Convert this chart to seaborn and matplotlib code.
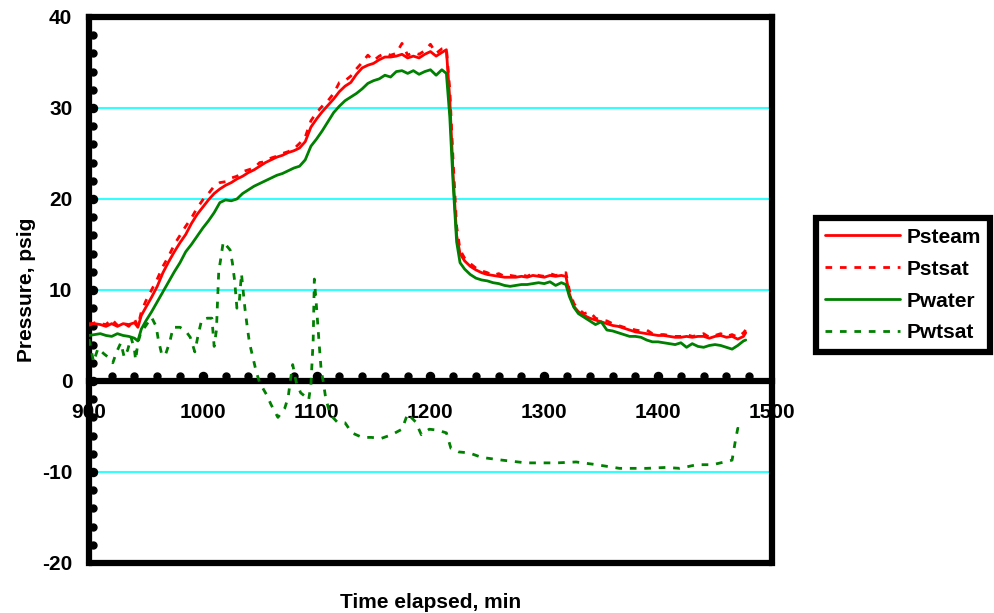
import numpy as np
import pandas as pd
import matplotlib
matplotlib.use("Agg")
import matplotlib.pyplot as plt
import matplotlib.transforms as mtransforms
from matplotlib.ticker import MultipleLocator
import seaborn as sns

# time axis shared by the three smooth series (min)
t_main = [900, 905, 910, 915, 920, 925, 930, 935, 940, 943,
          946, 950, 955, 960, 965, 970, 975, 980, 985, 990,
          995, 1000, 1005, 1010, 1015, 1020, 1025, 1030, 1035, 1040,
          1045, 1050, 1055, 1060, 1065, 1070, 1075, 1080, 1085, 1090,
          1095, 1100, 1105, 1110, 1115, 1120, 1125, 1130, 1135, 1140,
          1145, 1150, 1155, 1160, 1165, 1170, 1175, 1180, 1185, 1190,
          1195, 1200, 1205, 1210, 1214, 1217, 1220, 1223, 1226, 1230,
          1235, 1240, 1245, 1250, 1255, 1260, 1265, 1270, 1275, 1280,
          1285, 1290, 1295, 1300, 1305, 1310, 1315, 1319, 1322, 1326,
          1330, 1335, 1340, 1345, 1350, 1355, 1360, 1365, 1370, 1375,
          1380, 1385, 1390, 1395, 1400, 1405, 1410, 1415, 1420, 1425,
          1430, 1435, 1440, 1445, 1450, 1455, 1460, 1465, 1470, 1475,
          1477]

psteam = [6.3, 6.3, 6.2, 6.0, 6.3, 6.0, 6.3, 6.2, 6.4, 5.9,
          7.2, 8.1, 9.2, 10.4, 11.9, 13.1, 14.2, 15.2, 16.1, 17.3,
          18.3, 19.1, 19.9, 20.6, 21.1, 21.5, 21.8, 22.2, 22.5, 22.9,
          23.2, 23.6, 24.0, 24.3, 24.6, 24.8, 25.1, 25.3, 25.6, 26.3,
          27.9, 28.8, 29.6, 30.3, 31.0, 31.8, 32.4, 32.8, 33.7, 34.4,
          34.7, 34.9, 35.3, 35.6, 35.6, 35.7, 35.9, 35.5, 35.7, 35.5,
          35.9, 36.2, 35.7, 36.1, 36.4, 31.0, 22.5, 16.0, 14.0, 13.2,
          12.6, 12.2, 11.9, 11.7, 11.6, 11.5, 11.4, 11.4, 11.4, 11.5,
          11.4, 11.6, 11.5, 11.4, 11.6, 11.5, 11.6, 11.5, 9.6, 8.2,
          7.6, 7.2, 6.9, 6.7, 6.5, 6.3, 6.1, 6.0, 5.8, 5.6,
          5.4, 5.3, 5.2, 5.1, 5.0, 5.0, 4.9, 4.8, 4.8, 4.9,
          4.8, 4.9, 4.9, 4.7, 4.9, 5.0, 4.8, 4.9, 4.6, 4.9,
          5.3]

pstsat = [6.1, 6.4, 6.3, 6.2, 6.8, 6.1, 6.4, 6.0, 6.8, 6.0,
          7.6, 8.8, 10.0, 11.2, 12.6, 13.7, 15.0, 16.0, 17.0, 17.9,
          19.0, 19.9, 20.6, 21.4, 21.8, 21.9, 22.3, 22.5, 23.0, 23.2,
          23.4, 24.0, 24.1, 24.5, 24.7, 25.0, 25.2, 25.5, 26.1, 26.8,
          28.6, 29.5, 30.2, 30.8, 31.6, 32.8, 33.0, 33.5, 34.3, 35.0,
          35.8, 35.2, 35.7, 36.0, 35.8, 36.0, 37.1, 35.8, 36.1, 35.9,
          36.3, 37.0, 36.0, 36.5, 36.6, 32.0, 24.0, 17.0, 14.4, 13.5,
          12.9, 12.4, 12.1, 11.9, 11.6, 11.8, 11.5, 11.6, 11.5, 11.7,
          11.5, 11.8, 11.6, 11.5, 11.8, 11.6, 11.7, 11.9, 10.0, 8.5,
          7.9, 7.4, 7.6, 6.9, 6.7, 6.6, 6.3, 6.1, 5.9, 5.8,
          5.6, 5.5, 5.6, 5.2, 5.1, 5.1, 5.0, 4.9, 4.9, 5.1,
          4.9, 5.0, 5.2, 4.8, 5.0, 5.2, 4.9, 5.1, 4.8, 5.3,
          5.6]

pwater = [5.0, 5.1, 5.2, 5.0, 4.9, 5.2, 5.0, 4.9, 4.7, 4.4,
          5.7, 6.6, 7.6, 8.7, 9.8, 10.9, 12.0, 13.0, 14.2, 15.0,
          15.9, 16.8, 17.6, 18.5, 19.6, 19.9, 19.8, 20.0, 20.6, 21.0,
          21.4, 21.7, 22.0, 22.3, 22.6, 22.8, 23.1, 23.4, 23.6, 24.3,
          25.8, 26.6, 27.5, 28.5, 29.5, 30.2, 30.8, 31.2, 31.6, 32.1,
          32.7, 33.0, 33.2, 33.6, 33.4, 34.0, 34.1, 33.8, 34.1, 33.7,
          34.0, 34.2, 33.6, 34.2, 33.8, 29.0, 21.5, 15.3, 13.0, 12.3,
          11.7, 11.3, 11.1, 11.0, 10.8, 10.7, 10.5, 10.4, 10.5, 10.6,
          10.6, 10.7, 10.8, 10.7, 10.9, 10.5, 10.8, 10.6, 9.3, 8.1,
          7.4, 7.0, 6.6, 6.2, 6.5, 5.6, 5.5, 5.3, 5.1, 4.9,
          4.9, 4.8, 4.5, 4.3, 4.3, 4.2, 4.1, 4.0, 4.2, 3.7,
          4.1, 3.8, 3.7, 3.9, 4.0, 3.9, 3.7, 3.5, 3.9, 4.4,
          4.5]

# Pwtsat is noisier, read on its own time points
t_wt = [900, 902, 904, 908, 913, 917, 921, 924, 928, 931,
        934, 937, 940, 941, 943, 946, 949, 955, 959, 961,
        964, 967, 971, 974, 980, 985, 989, 993, 996, 999,
        1004, 1008, 1010, 1012, 1013, 1014, 1016, 1018, 1024, 1026,
        1028, 1030, 1032, 1034, 1035, 1037, 1039, 1041, 1044, 1047,
        1050, 1056, 1060, 1066, 1072, 1075, 1077, 1079, 1082, 1086,
        1089, 1093, 1095, 1097, 1098, 1100, 1102, 1104, 1106, 1108,
        1112, 1118, 1125, 1131, 1140, 1148, 1157, 1166, 1175, 1180,
        1187, 1192, 1199, 1206, 1214, 1218, 1225, 1234, 1245, 1263,
        1284, 1311, 1328, 1346, 1366, 1390, 1407, 1419, 1434, 1448,
        1465, 1468, 1470, 1476]
pwtsat = [4.6, 3.4, 2.1, 3.6, 3.0, 2.6, 2.0, 3.1, 4.2, 2.6,
          3.4, 4.8, 3.4, 2.3, 4.2, 5.5, 5.9, 7.0, 6.0, 4.5,
          2.9, 2.8, 4.3, 5.9, 5.9, 5.5, 4.8, 3.2, 5.1, 6.7,
          6.9, 6.9, 3.8, 5.6, 8.9, 12.0, 13.6, 15.3, 14.4, 13.0,
          11.0, 8.0, 8.6, 11.8, 10.5, 8.0, 6.0, 4.2, 2.6, 1.0,
          -0.2, -1.5, -2.6, -4.0, -3.0, -1.8, 0.1, 1.8, -0.1, -1.3,
          -1.6, -2.1, -0.4, 4.5, 11.2, 8.0, 4.5, 1.2, -0.2, -1.9,
          -3.7, -4.5, -4.6, -5.7, -6.2, -6.2, -6.3, -5.9, -5.3, -3.6,
          -4.5, -5.9, -5.3, -5.4, -5.7, -7.4, -7.8, -7.9, -8.4, -8.7,
          -9.0, -9.0, -8.9, -9.2, -9.6, -9.6, -9.5, -9.6, -9.2, -9.2,
          -8.7, -6.5, -5.2, -5.6]

df = pd.DataFrame({"t": t_main, "Psteam": psteam, "Pstsat": pstsat, "Pwater": pwater})
df_wt = pd.DataFrame({"t": t_wt, "Pwtsat": pwtsat})

RED = "#ff0000"
GREEN = "#008000"
DOTS = (0, (2.4, 2.8))

sns.set_style("white")
plt.rcParams['font.family'] = ['Liberation Sans', 'DejaVu Sans']
plt.rcParams['font.weight'] = 'bold'
plt.rcParams['axes.unicode_minus'] = False
for key in ['text.color', 'axes.labelcolor', 'xtick.color', 'ytick.color']:
    plt.rcParams[key] = 'black'

fig = plt.figure(figsize=(9.95, 6.13), dpi=100)
ax = fig.add_axes([0.0894, 0.0816, 0.6864, 0.8907])

# series
sns.lineplot(data=df, x="t", y="Psteam", ax=ax, color=RED, lw=2.0,
             label="Psteam", estimator=None, sort=False, zorder=4)
sns.lineplot(data=df, x="t", y="Pstsat", ax=ax, color=RED, lw=2.0,
             linestyle=DOTS, label="Pstsat", estimator=None, sort=False, zorder=4)
sns.lineplot(data=df, x="t", y="Pwater", ax=ax, color=GREEN, lw=2.0,
             label="Pwater", estimator=None, sort=False, zorder=4)
sns.lineplot(data=df_wt, x="t", y="Pwtsat", ax=ax, color=GREEN, lw=2.0,
             linestyle=DOTS, label="Pwtsat", estimator=None, sort=False, zorder=4)

ax.set_xlim(900, 1500)
ax.set_ylim(-20, 40)
ax.set_xticks(range(900, 1501, 100))
ax.set_yticks(range(-20, 41, 10))
ax.xaxis.set_minor_locator(MultipleLocator(20))
ax.yaxis.set_minor_locator(MultipleLocator(2))

ax.grid(axis='y', color='#33ffff', lw=1.5)
ax.grid(axis='x', visible=False)

# frame + x axis crossing at zero
for s in ax.spines.values():
    s.set_linewidth(4.5)
    s.set_color('black')
    s.set_visible(True)
ax.spines['bottom'].set_position(('data', 0))
ax.axhline(-20, color='black', lw=4.5, clip_on=False, zorder=2.5)

ax.tick_params(axis='both', which='both', length=0, labelsize=15)
ax.tick_params(axis='x', pad=16)
ax.tick_params(axis='y', pad=12)

# round Excel-like tick dots
dpi_tr = fig.dpi_scale_trans
yminor = [v for v in ax.yaxis.get_minorticklocs() if -20 < v < 40 and v % 10 != 0]
ymajor = [v for v in ax.get_yticks() if -20 < v < 40]
xminor = [v for v in ax.xaxis.get_minorticklocs() if 900 < v < 1500 and v % 100 != 0]
xmajor = [v for v in ax.get_xticks() if 900 < v < 1500]

ytr = ax.get_yaxis_transform() + mtransforms.ScaledTranslation(0.042, 0, dpi_tr)
xtr = ax.transData + mtransforms.ScaledTranslation(0, 0.05, dpi_tr)
ax.plot(np.zeros(len(yminor)), yminor, 'o', color='black', ms=5, transform=ytr, clip_on=False, zorder=3)
ax.plot(np.zeros(len(ymajor)), ymajor, 'o', color='black', ms=5.8, transform=ytr, clip_on=False, zorder=3)
ax.plot(xminor, np.zeros(len(xminor)), 'o', color='black', ms=5, transform=xtr, clip_on=False, zorder=3)
ax.plot(xmajor, np.zeros(len(xmajor)), 'o', color='black', ms=5.8, transform=xtr, clip_on=False, zorder=3)

ax.set_xlabel("Time elapsed, min", fontsize=15, fontweight='bold')
ax.set_ylabel("Pressure, psig", fontsize=15, fontweight='bold')
ax.xaxis.set_label_coords(0.5, -0.055)
ax.yaxis.set_label_coords(-0.077, 0.5)

handles, labels = ax.get_legend_handles_labels()
if ax.get_legend() is not None:
    ax.get_legend().remove()
leg = fig.legend(handles, labels, loc='center left', bbox_to_anchor=(0.82, 0.535),
                 frameon=True, fancybox=False, edgecolor='black', framealpha=1,
                 fontsize=15, handlelength=3.6, handletextpad=0.3, labelspacing=0.62,
                 borderpad=0.45, borderaxespad=0)
leg.get_frame().set_linewidth(4.5)

fig.savefig("out.png", dpi=100)
